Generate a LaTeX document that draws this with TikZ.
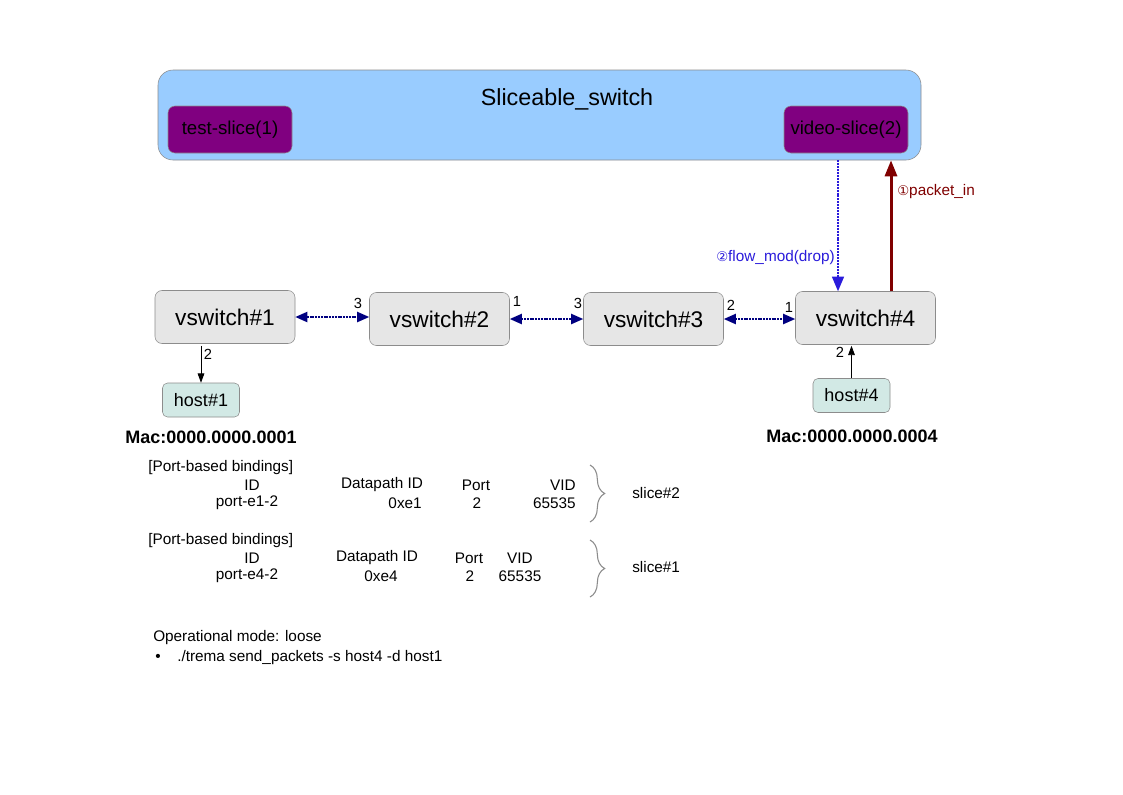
\documentclass[tikz,border=0pt]{standalone}
\usepackage{fontspec}
\setmainfont{Liberation Sans}
\newfontfamily\symfont{DejaVu Sans}
\usetikzlibrary{arrows.meta,positioning,decorations.pathreplacing}
\definecolor{sliceblue}{HTML}{99CCFF}
\definecolor{slicepurple}{HTML}{800080}
\definecolor{vswgray}{HTML}{E6E6E6}
\definecolor{hostteal}{HTML}{D2E9E5}
\definecolor{linknavy}{HTML}{000080}
\definecolor{flowblue}{HTML}{2A1BDB}
\definecolor{pktred}{HTML}{800000}
\definecolor{edgegray}{HTML}{8C8C8C}
\def\px{0.75pt}
\begin{document}
\begin{tikzpicture}[x=0.75pt, y=-0.75pt,
    switchbox/.style={
      draw=edgegray, fill=sliceblue, rounded corners=15*\px,
      minimum width=763*\px, minimum height=90*\px
    },
    slicebox/.style={
      draw=edgegray, fill=slicepurple, rounded corners=7*\px,
      minimum width=124*\px, minimum height=47*\px, font=\fontsize{14}{16}\selectfont
    },
    vsw/.style={
      draw=edgegray, fill=vswgray, rounded corners=7*\px,
      minimum width=140*\px, minimum height=53*\px, font=\fontsize{17}{19}\selectfont
    },
    hostbox/.style={
      draw=edgegray, fill=hostteal, rounded corners=5*\px,
      minimum width=77*\px, minimum height=34*\px, font=\fontsize{13.5}{15}\selectfont
    },
    link/.style={
      draw=linknavy, line width=2*\px, dash pattern=on 1.5pt off 0.6pt,
      {Triangle[length=9pt,width=7.5pt]}-{Triangle[length=9pt,width=7.5pt]}
    },
    hostlink/.style={draw=black, line width=0.6pt, -{Triangle[length=7pt,width=5pt]}},
    port/.style={font=\fontsize{11}{12}\selectfont, inner sep=0pt},
    tbl/.style={font=\fontsize{11.5}{13}\selectfont, inner sep=0pt},
    mac/.style={font=\bfseries\fontsize{13.5}{15}\selectfont, inner sep=0pt},
    brace/.style={draw=edgegray, line width=0.8pt,
      decorate, decoration={brace, amplitude=11pt}}
  ]
    \useasboundingbox[fill=white] (0,0) rectangle (1123,794);

    % Sliceable switch and its slices
    \node[switchbox] (sw) at (539.5,115) {};
    \node[font=\fontsize{17.5}{19}\selectfont] (swtitle) at (567,99) {Sliceable\_switch};
    \node[slicebox] (test) at (230,129.5) {test-slice(1)};
    \node[slicebox] (video) at (846,129.5) {video-slice(2)};

    % virtual switches
    \node[vsw] (vs1) at (225,317) {vswitch\#1};
    \node[vsw] (vs2) at (439.5,319) {vswitch\#2};
    \node[vsw] (vs3) at (653.5,319) {vswitch\#3};
    \node[vsw] (vs4) at (865.5,318) {vswitch\#4};

    \draw[link] (vs1.east) -- (vs1.east -| vs2.west);
    \draw[link] (vs2.east) -- (vs2.east -| vs3.west);
    \draw[link] (vs3.east) -- (vs3.east -| vs4.west);

    \node[port] (p21) at (358,303) {3};
    \node[port] (p12) at (517,301) {1};
    \node[port] (p23) at (578,303) {3};
    \node[port] (p32) at (731,305) {2};
    \node[port] (p41) at (789,307) {1};

    % hosts
    \node[hostbox] (h1) at (201,400) {host\#1};
    \node[hostbox] (h4) at (851.5,395.5) {host\#4};
    \node[mac] (mac1) at (211,437) {Mac:0000.0000.0001};
    \node[mac] (mac4) at (852,436) {Mac:0000.0000.0004};

    \draw[hostlink] ([yshift=-2*\px]vs1.south -| h1.north) -- (h1.north);
    \draw[hostlink] (h4.north) -- ([yshift=-1*\px]vs4.south -| h4.north);
    \node[port] (p1h) at (208,354) {2};
    \node[port] (p4h) at (840,352) {2};

    % controller messages
    \coordinate (fm) at (838,0);
    \coordinate (pk) at (891,0);
    \draw[flowblue, line width=1.5*\px, dash pattern=on 1.5pt off 0.7pt,
      -{Triangle[length=11pt,width=9pt]}] (sw.south -| fm) -- (vs4.north -| fm);
    \draw[pktred, line width=3*\px,
      -{Triangle[length=12pt,width=9pt]}] (vs4.north -| pk) -- (sw.south -| pk);
    \node[flowblue, anchor=east, inner sep=0pt, font=\fontsize{11.5}{13}\selectfont]
      (fmlabel) at (835,258) {{\symfont\fontsize{10}{12}\selectfont ②}flow\_mod(drop)};
    \node[pktred, anchor=west, inner sep=0pt, font=\fontsize{11.5}{13}\selectfont]
      (pklabel) at (897,192) {{\symfont\fontsize{10}{12}\selectfont ①}packet\_in};

    % bindings of slice#2
    \node[tbl, anchor=west] (b2head) at (148,468) {[Port-based bindings]};
    \node[tbl] (b2id) at (252,485) {ID};
    \node[tbl] (b2dp) at (382,485) {Datapath ID};
    \node[tbl] (b2port) at (476,485) {Port};
    \node[tbl, anchor=east] (b2vid) at (576,485) {VID};
    \node[tbl] (b2idv) at (247,503) {port-e1-2};
    \node[tbl, anchor=east] (b2dpv) at (422,503) {0xe1};
    \node[tbl] (b2portv) at (477,503) {2};
    \node[tbl, anchor=east] (b2vidv) at (576,503) {65535};
    \coordinate (br2a) at (590,465);
    \coordinate (br2b) at (590,522);
    \draw[brace] (br2a) -- (br2b);
    \node[tbl, anchor=west] (s2) at (632,493) {slice\#2};

    % bindings of slice#1
    \node[tbl, anchor=west] (b1head) at (148,541) {[Port-based bindings]};
    \node[tbl] (b1id) at (252,558) {ID};
    \node[tbl] (b1dp) at (377,558) {Datapath ID};
    \node[tbl] (b1port) at (469,558) {Port};
    \node[tbl] (b1vid) at (520,558) {VID};
    \node[tbl] (b1idv) at (247,576) {port-e4-2};
    \node[tbl] (b1dpv) at (381,576) {0xe4};
    \node[tbl] (b1portv) at (470,576) {2};
    \node[tbl] (b1vidv) at (520,576) {65535};
    \coordinate (br1a) at (590,540);
    \coordinate (br1b) at (590,597);
    \draw[brace] (br1a) -- (br1b);
    \node[tbl, anchor=west] (s1) at (632,567) {slice\#1};

    % mode note
    \node[tbl, anchor=west] (mode) at (153,638) {Operational mode: loose};
    \node[tbl] (bullet) at (158,658) {\textbullet};
    \node[tbl, anchor=west] (cmd) at (177,658) {./trema send\_packets -s host4 -d host1};
\end{tikzpicture}
\end{document}
